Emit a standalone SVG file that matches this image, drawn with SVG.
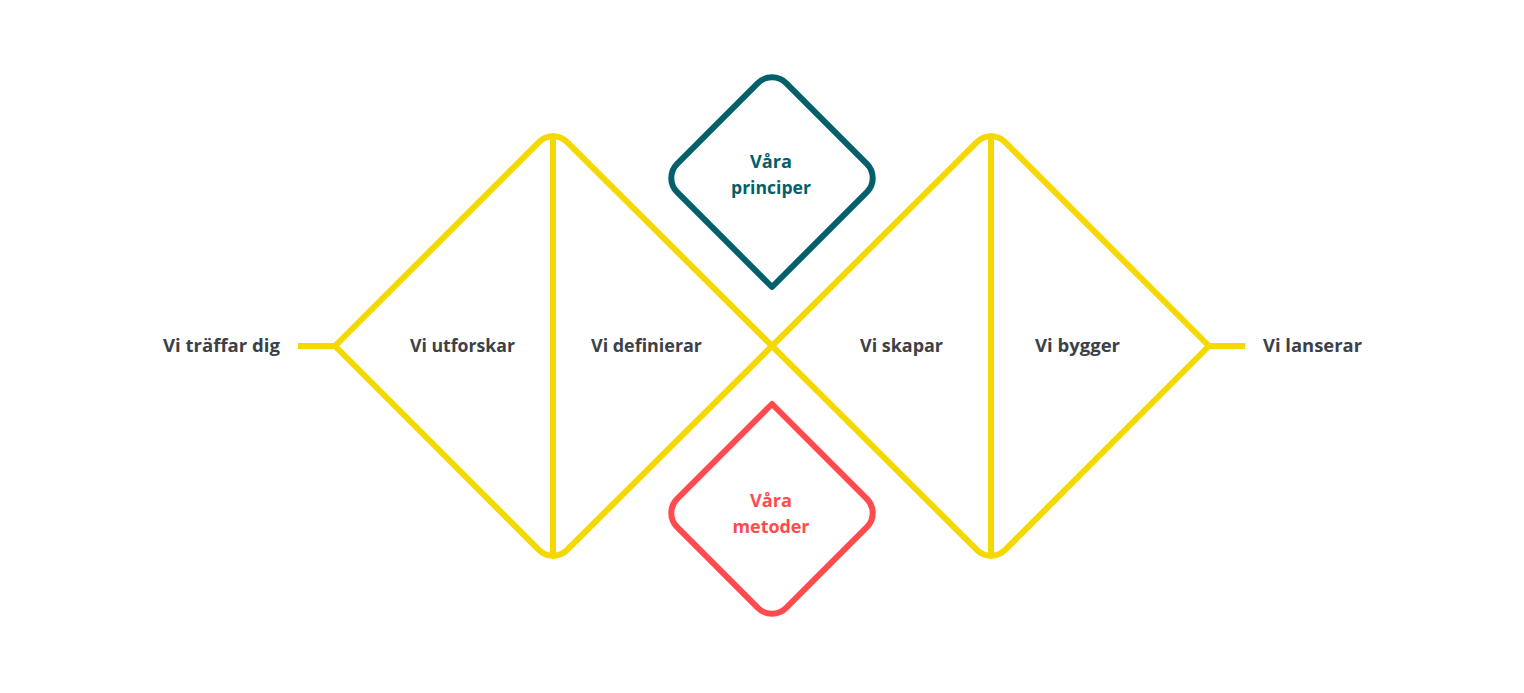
<svg xmlns="http://www.w3.org/2000/svg" width="1524" height="693" viewBox="0 0 1524 693">
<style>
.y{fill:none;stroke:#F4D800;stroke-width:6;stroke-linecap:round;stroke-linejoin:round}
.stub{fill:none;stroke:#F4D800;stroke-width:6;stroke-linecap:butt}
.lbl{font-family:"Open Sans","Noto Sans",sans-serif;font-weight:700;font-size:18px;fill:#3C4048;text-anchor:middle}
.teal{fill:none;stroke:#03606A;stroke-width:6;stroke-linejoin:round}
.red{fill:none;stroke:#FF4B4E;stroke-width:6;stroke-linejoin:round}
.tt{font-family:"Open Sans","Noto Sans",sans-serif;font-weight:700;font-size:18px;text-anchor:middle}
</style>
<rect width="1524" height="693" fill="#ffffff"/>
<g id="connectors">
<path class="stub" d="M 298 346 H 336"/>
<path class="stub" d="M 1208 346 H 1245"/>
<path class="y" d="M 335 346 L 538.86 142.14 A 20 20 0 0 1 567.14 142.14 L 976.86 549.86 A 20 20 0 0 0 1005.14 549.86 L 1209 346"/>
<path class="y" d="M 335 346 L 538.86 549.86 A 20 20 0 0 0 567.14 549.86 L 976.86 142.14 A 20 20 0 0 1 1005.14 142.14 L 1209 346"/>
<path class="y" d="M 553 136.3 V 555.7"/>
<path class="y" d="M 991 136.3 V 555.7"/>
</g>
<g id="n-traffar"><text class="lbl" x="221.5" y="352" textLength="117" lengthAdjust="spacingAndGlyphs">Vi träffar dig</text></g>
<g id="n-utforskar"><text class="lbl" x="462.5" y="352" textLength="105" lengthAdjust="spacingAndGlyphs">Vi utforskar</text></g>
<g id="n-definierar"><text class="lbl" x="646.5" y="352" textLength="111" lengthAdjust="spacingAndGlyphs">Vi definierar</text></g>
<g id="n-skapar"><text class="lbl" x="901.5" y="352" textLength="83" lengthAdjust="spacingAndGlyphs">Vi skapar</text></g>
<g id="n-bygger"><text class="lbl" x="1077.5" y="352" textLength="85" lengthAdjust="spacingAndGlyphs">Vi bygger</text></g>
<g id="n-lanserar"><text class="lbl" x="1312.5" y="352" textLength="99" lengthAdjust="spacingAndGlyphs">Vi lanserar</text></g>
<g id="n-principer">
<path class="teal" d="M 772 287 L 677.14 192.14 A 20 20 0 0 1 677.14 163.86 L 757.86 83.14 A 20 20 0 0 1 786.14 83.14 L 866.86 163.86 A 20 20 0 0 1 866.86 192.14 Z"/>
<text class="tt" fill="#03606A" x="771" y="168" textLength="42" lengthAdjust="spacingAndGlyphs">Våra</text>
<text class="tt" fill="#03606A" x="771" y="194" textLength="80" lengthAdjust="spacingAndGlyphs">principer</text>
</g>
<g id="n-metoder">
<path class="red" d="M 772 404 L 866.86 498.86 A 20 20 0 0 1 866.86 527.14 L 786.14 607.86 A 20 20 0 0 1 757.86 607.86 L 677.14 527.14 A 20 20 0 0 1 677.14 498.86 Z"/>
<text class="tt" fill="#FF4B4E" x="771" y="507" textLength="42" lengthAdjust="spacingAndGlyphs">Våra</text>
<text class="tt" fill="#FF4B4E" x="771" y="533" textLength="77" lengthAdjust="spacingAndGlyphs">metoder</text>
</g>
</svg>
